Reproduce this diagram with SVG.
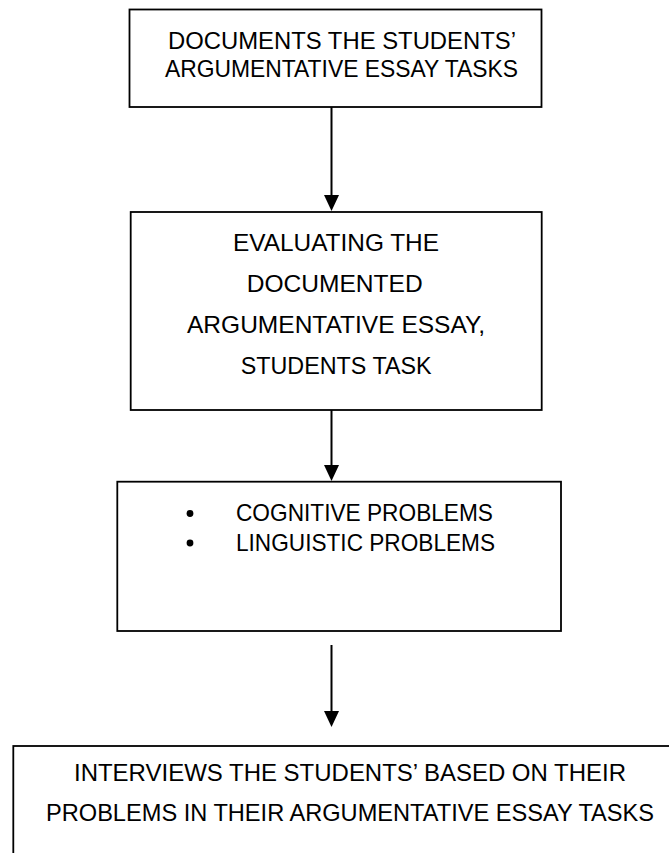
<svg xmlns="http://www.w3.org/2000/svg" width="669" height="853" viewBox="0 0 669 853">
<defs>
<style>
.box{fill:#fff;stroke:#000;stroke-width:1.8}
.t{font-family:"Liberation Sans",Arial,sans-serif;font-size:24px;fill:#000}
.conn line{stroke:#000;stroke-width:2}
.conn polygon{fill:#000}
</style>
</defs>
<rect width="669" height="853" fill="#fff"/>
<g id="node1">
<rect class="box" x="129.5" y="9.5" width="412" height="97.5"/>
<text class="t" x="168" y="49.3" textLength="348" lengthAdjust="spacingAndGlyphs">DOCUMENTS THE STUDENTS’</text>
<text class="t" x="165" y="77.3" textLength="353" lengthAdjust="spacingAndGlyphs">ARGUMENTATIVE ESSAY TASKS</text>
</g>
<g id="node2">
<rect class="box" x="130.7" y="212" width="411" height="198"/>
<text class="t" x="233" y="250.7" textLength="206" lengthAdjust="spacingAndGlyphs">EVALUATING THE</text>
<text class="t" x="246.7" y="291.7" textLength="176" lengthAdjust="spacingAndGlyphs">DOCUMENTED</text>
<text class="t" x="187" y="333.3" textLength="298" lengthAdjust="spacingAndGlyphs">ARGUMENTATIVE ESSAY,</text>
<text class="t" x="240.7" y="374.3" textLength="191" lengthAdjust="spacingAndGlyphs">STUDENTS TASK</text>
</g>
<g id="node3">
<rect class="box" x="117.3" y="481.7" width="443.7" height="149.3"/>
<circle cx="190" cy="513.5" r="3.4" fill="#000"/>
<circle cx="190" cy="543" r="3.4" fill="#000"/>
<text class="t" x="236" y="521" textLength="257" lengthAdjust="spacingAndGlyphs">COGNITIVE PROBLEMS</text>
<text class="t" x="236" y="550.5" textLength="259" lengthAdjust="spacingAndGlyphs">LINGUISTIC PROBLEMS</text>
</g>
<g id="node4">
<rect class="box" x="13.3" y="746" width="674" height="130"/>
<text class="t" x="74" y="780.5" textLength="552" lengthAdjust="spacingAndGlyphs">INTERVIEWS THE STUDENTS’ BASED ON THEIR</text>
<text class="t" x="46" y="821" textLength="608" lengthAdjust="spacingAndGlyphs">PROBLEMS IN THEIR ARGUMENTATIVE ESSAY TASKS</text>
</g>
<g id="connectors" class="conn">
<line x1="331.5" y1="107" x2="331.5" y2="197"/>
<polygon points="324,195 339,195 331.5,211"/>
<line x1="331.5" y1="410" x2="331.5" y2="467"/>
<polygon points="324,465 339,465 331.5,481"/>
<line x1="331.5" y1="645" x2="331.5" y2="713"/>
<polygon points="324,711 339,711 331.5,727"/>
</g>
</svg>
